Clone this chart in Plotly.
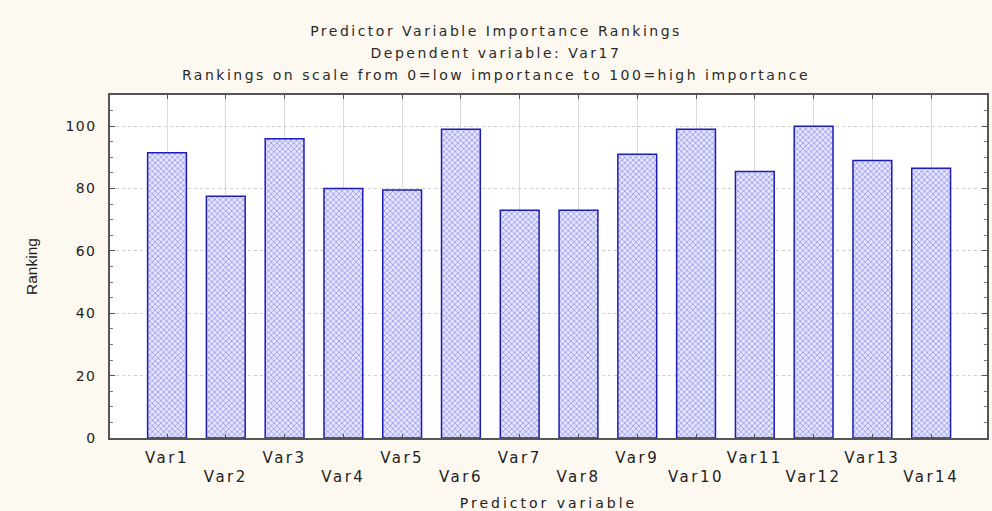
import plotly.graph_objects as go

categories = ["Var1", "Var2", "Var3", "Var4", "Var5", "Var6", "Var7",
              "Var8", "Var9", "Var10", "Var11", "Var12", "Var13", "Var14"]
rankings = [91.5, 77.5, 96, 80, 79.5, 99, 73, 73, 91, 99, 85.5, 100, 89, 86.5]
y_ticks = [0, 20, 40, 60, 80, 100]

title_lines = ["Predictor Variable Importance Rankings",
               "Dependent variable: Var17",
               "Rankings on scale from 0=low importance to 100=high importance"]

XS = '<span style="letter-spacing:2.5px;font-size:15px">{}</span>'
YS = '<span style="letter-spacing:1.4px;font-size:14px">{}</span>'
TS = '<span style="letter-spacing:2.5px;font-size:14px">{}</span>'
AS = '<span style="letter-spacing:3px;font-size:14px">{}</span>'

tick_text = [XS.format(c) if i % 2 == 0 else "<br>" + XS.format(c) for i, c in enumerate(categories)]
y_text = [YS.format(str(v)) for v in y_ticks]
x_pos = list(range(len(categories)))

fig = go.Figure()
fig.add_trace(go.Bar(
    x=x_pos,
    y=rankings,
    width=0.66,
    marker=dict(
        color="#dcdcfa",
        line=dict(color="#1c1cb8", width=1.5),
        pattern=dict(shape="x", fgcolor="#5a5ae6", bgcolor="#e4e4fc", size=4, solidity=0.4),
    ),
    showlegend=False,
))

font_family = "DejaVu Sans, Arial, sans-serif"

fig.update_layout(
    width=992, height=511,
    paper_bgcolor="#fdf9f0",
    plot_bgcolor="#ffffff",
    margin=dict(l=110, r=5, t=95, b=73, autoexpand=False),
    font=dict(family=font_family, color="#2a2a2a", size=13),
    title=dict(
        text="<br>".join(TS.format(t) for t in title_lines),
        x=0.5, xanchor="center", y=1 - 35.5 / 511, yanchor="middle",
        font=dict(size=17, family=font_family, color="#2a2a2a"),
    ),
)

fig.update_xaxes(
    tickmode="array", tickvals=x_pos, ticktext=tick_text,
    range=[-0.97, 13.95],
    showgrid=True, gridcolor="#dadada", gridwidth=1,
    showline=True, linecolor="#555555", linewidth=1.5, mirror="ticks",
    ticks="inside", ticklen=4, tickcolor="#555555",
    tickfont=dict(size=15, family=font_family, color="#222222"),
    ticklabelstandoff=5,
    automargin=False,
    title=dict(text=AS.format("Predictor variable"), standoff=15,
               font=dict(size=14, family=font_family, color="#222222")),
    zeroline=False,
)
fig.update_yaxes(
    range=[0, 110],
    tickmode="array", tickvals=y_ticks, ticktext=y_text,
    showgrid=True, gridcolor="#cfcfcf", gridwidth=1, griddash="dot",
    showline=True, linecolor="#555555", linewidth=1.5, mirror="ticks",
    ticks="inside", ticklen=5, tickcolor="#555555",
    minor=dict(ticks="inside", ticklen=3, dtick=5, tickcolor="#777777", showgrid=False),
    tickfont=dict(size=14, family=font_family, color="#222222"),
    ticklabelstandoff=9,
    automargin=False,
    title=dict(text="Ranking", standoff=24,
               font=dict(size=15.5, family="Liberation Sans Narrow, Liberation Sans, Arial", color="#222222")),
    zeroline=False,
)

fig.write_html("out.html", config={"displayModeBar": False},
               post_script="document.body.style.margin='0';")
